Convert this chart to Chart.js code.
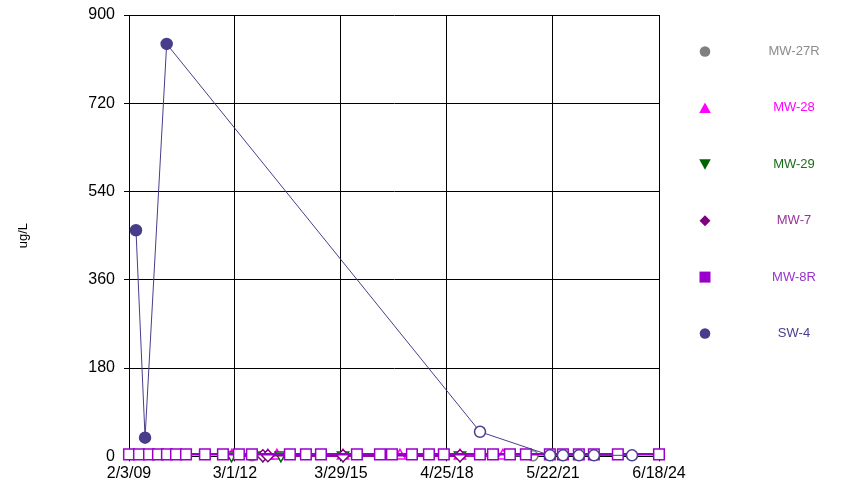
<!DOCTYPE html>
<html>
<head>
<meta charset="utf-8">
<script src="https://cdn.jsdelivr.net/npm/chart.js@4/dist/chart.umd.min.js"></script>
<style>
  html, body { margin: 0; padding: 0; background: #fff; }
  #wrap { width: 841px; height: 489px; position: relative; }
</style>
</head>
<body>
<div id="wrap"><canvas id="chart"></canvas></div>
<script>
// x axis tick labels (M/D/YY)
const xTickLabels = ['2/3/09', '3/1/12', '3/29/15', '4/25/18', '5/22/21', '6/18/24'];
const yTicks = [0, 180, 360, 540, 720, 900];

// series (dates M/D/YY, values ug/L, 1 = detected / filled marker)
const mw27rDates = ['8/28/12', '10/21/20'];
const mw27rValues = [1, 1];
const mw27rDetect = [0, 0];

const mw28Dates = ['1/29/12', '2/13/13', '5/20/13', '4/20/15', '12/13/16', '9/10/18', '12/9/19'];
const mw28Values = [1, 1, 1, 1, 1, 1, 1];
const mw28Detect = [0, 0, 0, 0, 0, 0, 0];

const mw29Dates = ['1/25/12', '12/22/12', '7/1/13', '4/20/15', '9/10/18'];
const mw29Values = [2, 2, 2, 2, 2];
const mw29Detect = [0, 0, 0, 0, 0];

const mw7Dates = ['12/22/12', '2/13/13', '4/20/15', '9/10/18'];
const mw7Values = [1, 1, 1, 1];
const mw7Detect = [0, 0, 0, 0];

const mw8rDates = ['2/3/09', '5/20/09', '9/3/09', '12/7/09', '3/12/10', '6/16/10', '9/30/10',
  '4/18/11', '10/26/11', '4/12/12', '8/28/12', '10/4/13', '3/23/14', '8/29/14', '9/14/15',
  '5/15/16', '9/19/16', '4/19/17', '10/16/17', '3/23/18', '4/9/19', '8/25/19', '2/21/20',
  '8/8/20', '4/19/21', '9/4/21', '2/20/22', '7/29/22', '4/9/23', '6/18/24'];
const mw8rValues = [4, 4, 4, 4, 4, 4, 4, 4, 4, 4, 4, 4, 4, 4, 4,
  4, 4, 4, 4, 4, 4, 4, 4, 4, 4, 4, 4, 4, 4, 4];
const mw8rDetect = mw8rValues.map(() => 0);

const sw4Dates = ['4/18/09', '7/23/09', '3/9/10', '4/10/19', '4/20/21', '9/5/21', '2/21/22', '7/30/22', '9/6/23'];
const sw4Values = [461, 38, 841, 50, 2, 2, 2, 2, 2];
const sw4Detect = [1, 1, 1, 0, 0, 0, 0, 0, 0];

function toMs(s) {
  const p = s.split('/');
  return Date.UTC(2000 + parseInt(p[2]), parseInt(p[0]) - 1, parseInt(p[1]));
}

function pts(dates, values) {
  return dates.map((d, i) => ({ x: toMs(d), y: values[i] }));
}

function fills(detect, color) {
  return detect.map(f => f ? color : '#ffffff');
}

const series = [
  { label: 'MW-27R', color: '#808080', text: '#8c8c8c', dates: mw27rDates, values: mw27rValues, detect: mw27rDetect, style: 'circle', rot: 0, r: 5, order: 5, lw: 1.5 },
  { label: 'MW-28', color: '#ff00ff', text: '#ff00ff', dates: mw28Dates, values: mw28Values, detect: mw28Detect, style: 'triangle', rot: 0, r: 6.5, order: 4, lw: 1.5 },
  { label: 'MW-29', color: '#006400', text: '#1a6e1a', dates: mw29Dates, values: mw29Values, detect: mw29Detect, style: 'triangle', rot: 180, r: 6.5, order: 3, lw: 1.5 },
  { label: 'MW-7', color: '#800080', text: '#993399', dates: mw7Dates, values: mw7Values, detect: mw7Detect, style: 'rectRot', rot: 0, r: 6, order: 2, lw: 1.5 },
  { label: 'MW-8R', color: '#9900cc', text: '#9933cc', dates: mw8rDates, values: mw8rValues, detect: mw8rDetect, style: 'rect', rot: 0, r: 7.5, order: 1, lw: 2.5 },
  { label: 'SW-4', color: '#483d8b', text: '#483d8b', dates: sw4Dates, values: sw4Values, detect: sw4Detect, style: 'circle', rot: 0, r: 5.5, order: 0, lw: 1 }
];

const xTickValues = xTickLabels.map(toMs);

// legend on the right, drawn like the original
const sideLegend = {
  id: 'sideLegend',
  afterDraw(chart) {
    const ctx = chart.ctx;
    ctx.save();
    series.forEach((s, i) => {
      const y = 51.5 + i * 56.4;
      const x = 705;
      ctx.fillStyle = s.color;
      ctx.beginPath();
      if (s.style === 'circle') {
        ctx.arc(x, y, 5.3, 0, Math.PI * 2);
      } else if (s.style === 'triangle' && s.rot === 0) {
        ctx.moveTo(x, y - 5.5); ctx.lineTo(x + 5.8, y + 5); ctx.lineTo(x - 5.8, y + 5);
      } else if (s.style === 'triangle') {
        ctx.moveTo(x, y + 5.5); ctx.lineTo(x + 5.8, y - 5); ctx.lineTo(x - 5.8, y - 5);
      } else if (s.style === 'rectRot') {
        ctx.moveTo(x, y - 5.5); ctx.lineTo(x + 5.5, y); ctx.lineTo(x, y + 5.5); ctx.lineTo(x - 5.5, y);
      } else {
        ctx.rect(x - 5.5, y - 5.5, 11, 11);
      }
      ctx.closePath();
      ctx.fill();
      ctx.fillStyle = s.text;
      ctx.font = '13px "Liberation Sans", Arial, sans-serif';
      ctx.textAlign = 'center';
      ctx.textBaseline = 'middle';
      ctx.fillText(s.label, 794, y);
    });
    ctx.restore();
  }
};

const ctx = document.getElementById('chart').getContext('2d');
const myChart = new Chart(ctx, {
  type: 'line',
  data: {
    datasets: series.map(s => ({
      label: s.label,
      data: pts(s.dates, s.values),
      borderColor: s.color,
      borderWidth: s.lw,
      backgroundColor: s.color,
      pointStyle: s.style,
      pointRotation: s.rot,
      pointRadius: s.r,
      pointBorderWidth: 1.5,
      pointBorderColor: s.color,
      pointBackgroundColor: fills(s.detect, s.color),
      fill: false,
      tension: 0,
      clip: false,
      order: s.order
    }))
  },
  options: {
    responsive: true,
    maintainAspectRatio: false,
    animation: false,
    layout: { padding: { top: 15, right: 182, bottom: 2.5, left: 0 } },
    plugins: {
      legend: { display: false },
      tooltip: { enabled: false }
    },
    scales: {
      x: {
        type: 'linear',
        min: xTickValues[0],
        max: xTickValues[xTickValues.length - 1],
        afterBuildTicks: scale => {
          scale.ticks = xTickValues.map(v => ({ value: v }));
        },
        afterFit: scale => { scale.paddingLeft = 0; scale.paddingRight = 0; },
        ticks: {
          autoSkip: false,
          maxRotation: 0,
          color: '#000',
          padding: 3,
          font: { family: '"Liberation Sans", Arial, sans-serif', size: 16 },
          callback: (value, index) => xTickLabels[index]
        },
        grid: { color: '#000', lineWidth: 1, tickLength: 5 },
        border: { color: '#000', width: 1 }
      },
      y: {
        min: 0,
        max: 900,
        afterBuildTicks: scale => {
          scale.ticks = yTicks.map(v => ({ value: v }));
        },
        afterFit: scale => {
          scale.width = 129;
          scale.paddingTop = 0;
          scale.paddingBottom = 0;
        },
        ticks: {
          color: '#000',
          padding: 9,
          font: { family: '"Liberation Sans", Arial, sans-serif', size: 16 }
        },
        grid: { color: '#000', lineWidth: 1, tickLength: 5 },
        border: { color: '#000', width: 1 },
        title: {
          display: true,
          text: 'ug/L',
          color: '#000',
          padding: { top: 16, bottom: 0 },
          font: { family: '"Liberation Sans", Arial, sans-serif', size: 13 }
        }
      }
    }
  },
  plugins: [sideLegend]
});
</script>
</body>
</html>
